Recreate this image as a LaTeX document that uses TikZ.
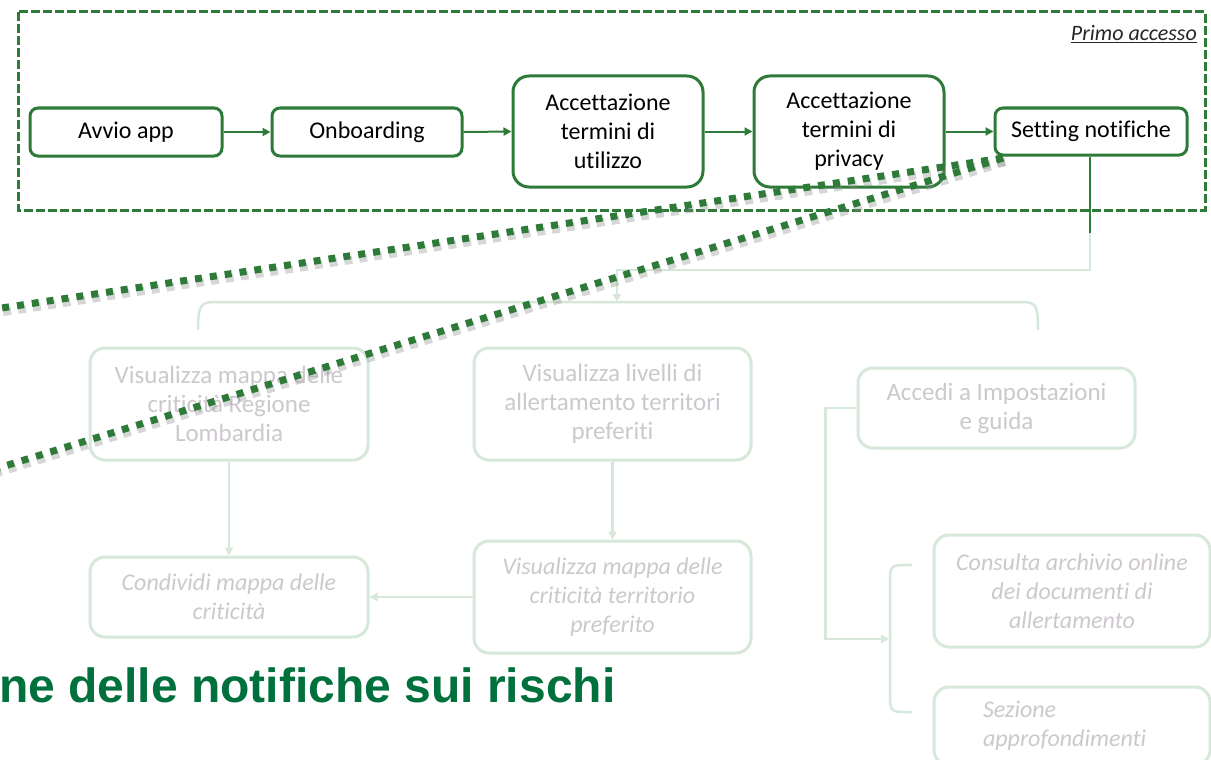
\documentclass[tikz,border=0pt]{standalone}
\usepackage{fontspec}
\setmainfont[RawFeature={-liga,-clig}]{Carlito}
\newfontfamily\bigsans{Liberation Sans}
\usetikzlibrary{arrows.meta}
\definecolor{dkgreen}{RGB}{46,122,56}
\definecolor{ltgreen}{RGB}{214,232,217}
\definecolor{lttext}{RGB}{205,200,206}
\definecolor{titlegreen}{RGB}{0,112,60}
\tikzset{
  darkbox/.style={draw=dkgreen, line width=3pt, rounded corners=8pt, fill=white, align=center, inner sep=0pt, font=\fontsize{24}{29}\selectfont, text=black},
  bigbox/.style={darkbox, rounded corners=16pt},
  lightbox/.style={draw=ltgreen, line width=3pt, rounded corners=15pt, align=center, inner sep=0pt, font=\fontsize{25}{29}\selectfont, text=lttext},
  darkarrow/.style={draw=dkgreen, line width=2pt, -{Triangle[length=8pt,width=8pt]}},
  darkline/.style={draw=dkgreen, line width=2pt},
  lightline/.style={draw=ltgreen, line width=2.5pt},
  lightarrow/.style={draw=ltgreen, line width=2.5pt, -{Triangle[length=8pt,width=8pt]}},
  frame/.style={draw=dkgreen, line width=3pt, dash pattern=on 9pt off 3pt},
  dotline/.style={draw=dkgreen, line width=7pt, dash pattern=on 7pt off 8pt},
  dotshadow/.style={draw=black!45, opacity=0.35, line width=8pt, dash pattern=on 8pt off 7pt}
}
\begin{document}
\begin{tikzpicture}[x=1pt,y=-1pt]
\useasboundingbox (0,0) rectangle (1211,760);
\clip (0,0) rectangle (1211,760);
\fill[white] (0,0) rectangle (1211,760);

% frame
\draw[frame] (18,12) rectangle (1205,210);
\node[anchor=base east, inner sep=0pt, font=\fontsize{22}{26}\selectfont\itshape, text=black!85] (primo) at (1197,41) {\underline{Primo accesso}};

% top row
\node[darkbox, minimum width=192pt, minimum height=48pt] (avvio) at (126,132) {Avvio app};
\node[darkbox, minimum width=190pt, minimum height=48pt] (onb) at (367,132) {Onboarding};
\node[bigbox, minimum width=190pt, minimum height=111pt] (acc1) at (608,131.5) {Accettazione\\termini di\\utilizzo};
\node[bigbox, minimum width=190pt, minimum height=111pt] (acc2) at (849,131.5) {Accettazione\\termini di\\privacy};
\node[darkbox, minimum width=192pt, minimum height=47pt] (sett) at (1091,131.5) {Setting notifiche};

\draw[darkarrow] (avvio.east) -- (onb.west);
\draw[darkarrow] (onb.east) -- (acc1.west);
\draw[darkarrow] (acc1.east) -- (acc2.west);
\draw[darkarrow] (acc2.east) -- (sett.west);

% second row
\node[lightbox, minimum width=278pt, minimum height=112pt] (lomb) at (229,404) {Visualizza mappa delle\\criticità Regione\\Lombardia};
\node[lightbox, minimum width=277pt, minimum height=112pt] (liv) at (612.5,404) {Visualizza livelli di\\allertamento territori\\preferiti};
\node[lightbox, minimum width=277pt, minimum height=80pt] (accedi) at (996.5,408) {Accedi a Impostazioni\\e guida};

% third row
\node[lightbox, minimum width=278pt, minimum height=80pt, font=\fontsize{24}{29}\selectfont\itshape] (cond) at (229,597) {Condividi mappa delle\\criticità};
\node[lightbox, minimum width=277pt, minimum height=112pt, font=\fontsize{24}{29}\selectfont\itshape] (terr) at (612.5,597) {Visualizza mappa delle\\criticità territorio\\preferito};
\node[lightbox, minimum width=276pt, minimum height=112pt, font=\fontsize{24}{29}\selectfont\itshape] (cons) at (1072,591) {Consulta archivio online\\dei documenti di\\allertamento};
\node[lightbox, minimum width=276pt, minimum height=78pt, text width=178pt, align=left, font=\fontsize{24}{29}\selectfont\itshape] (sez) at (1072,726) {Sezione\\approfondimenti};

% connectors
\coordinate (sbend) at (1090,233);
\coordinate (brTop) at (617,302);
\draw[darkline] (sett.south -| sbend) -- (sbend);
\draw[lightarrow] (sbend) -- (1090,270) -- (617,270) -- (brTop);
\draw[lightline] (198,330) .. controls (198,305) and (201,302) .. (215,302) -- (1022,302) .. controls (1036,302) and (1038,305) .. (1038,330);

\draw[lightarrow] (lomb.south) -- (cond.north);
\draw[lightarrow] (liv.south) -- (terr.north);
\draw[lightarrow] (terr.west) -- (cond.east);

\coordinate (brL) at (889,639);
\draw[lightarrow] (accedi.west) -- ++(-31,0) |- (brL);
\draw[lightline] (912,565) -- (903,565) .. controls (891,565) and (890,568) .. (890,580) -- (890,697) .. controls (890,709) and (891,712) .. (903,712) -- (912,712);

% title
\node[anchor=base west, inner sep=0pt, font=\bigsans\bfseries\fontsize{48}{54}\selectfont, text=titlegreen] (title) at (-1,702) {ne delle notifiche sui rischi};

% dotted callout lines
\coordinate (dS) at (1003,158);
\coordinate (dE1) at (-5,309);
\coordinate (dE2) at (-5,469);
\draw[dotshadow] ([shift={(2,4)}]dS) -- ([shift={(2,4)}]dE1);
\draw[dotshadow] ([shift={(2,4)}]dS) -- ([shift={(2,4)}]dE2);
\draw[dotline] (dS) -- (dE1);
\draw[dotline] (dS) -- (dE2);
\end{tikzpicture}
\end{document}
